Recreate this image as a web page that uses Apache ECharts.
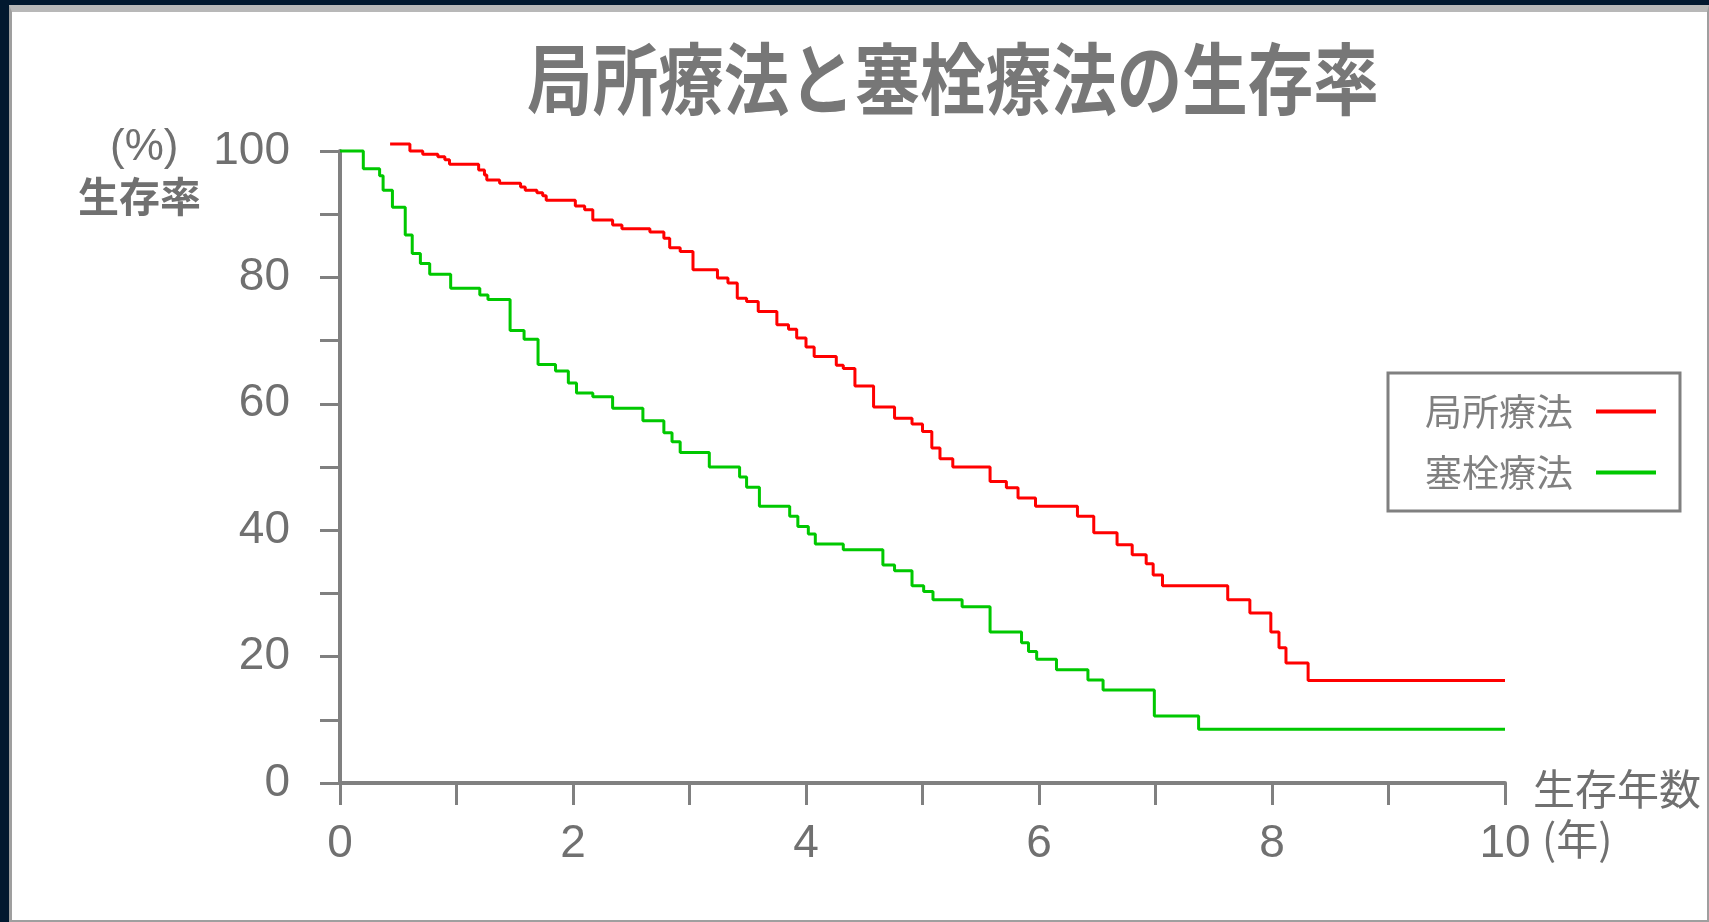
<!DOCTYPE html>
<html>
<head>
<meta charset="utf-8">
<script src="https://cdn.jsdelivr.net/npm/echarts@6/dist/echarts.min.js"></script>
<style>
  html, body { margin: 0; padding: 0; width: 1709px; height: 922px; overflow: hidden; background: #02182f; }
  #frame {
    position: absolute; left: 9px; top: 5px; width: 1700px; height: 917px;
    box-sizing: border-box; background: #fff;
    border-top: 7px solid #b8b8b8; border-left: 3px solid #9f9f9f;
    border-right: 2px solid #9f9f9f; border-bottom: 2px solid #9f9f9f;
  }
  #chart { position: absolute; left: 0; top: 0; width: 1709px; height: 922px; }
</style>
</head>
<body>
<div id="frame"></div>
<div id="chart"></div>
<script>
// 局所療法 (local therapy) - step points: year, survival %
var localYears = [0.43, 0.60, 0.71, 0.84, 0.90, 0.94, 1.19, 1.24, 1.26, 1.37, 1.55, 1.59, 1.69, 1.74, 1.77,
  2.02, 2.10, 2.17, 2.34, 2.42, 2.66, 2.78, 2.83, 2.92, 3.03, 3.24, 3.33, 3.41, 3.49, 3.59, 3.75, 3.85,
  3.92, 4.00, 4.07, 4.26, 4.32, 4.42, 4.58, 4.76, 4.91, 5.00, 5.08, 5.15, 5.26, 5.58, 5.72, 5.82, 5.97,
  6.33, 6.47, 6.67, 6.80, 6.92, 6.98, 7.06, 7.62, 7.81, 7.99, 8.06, 8.12, 8.31, 10.0]
var localRates = [101.1, 100.0, 99.5, 99.1, 98.6, 97.9, 97.0, 96.2, 95.4, 94.9, 94.3, 93.8, 93.4, 92.9, 92.2,
  91.3, 90.7, 89.1, 88.3, 87.7, 87.2, 86.2, 84.7, 84.1, 81.2, 79.9, 79.1, 76.7, 76.2, 74.6, 72.5, 71.8,
  70.4, 69.0, 67.5, 66.1, 65.6, 62.8, 59.5, 57.7, 56.8, 55.6, 53.0, 51.3, 50.0, 47.7, 46.7, 45.1, 43.8,
  42.2, 39.6, 37.7, 36.1, 34.7, 32.9, 31.2, 29.0, 26.9, 23.9, 21.4, 19.0, 16.2, 16.2]

// 塞栓療法 (embolization)
var emboYears = [0.00, 0.20, 0.34, 0.37, 0.45, 0.56, 0.62, 0.69, 0.77, 0.95, 1.20, 1.27, 1.46, 1.58, 1.70,
  1.85, 1.96, 2.03, 2.17, 2.34, 2.60, 2.78, 2.85, 2.92, 3.17, 3.43, 3.49, 3.60, 3.86, 3.93, 4.02, 4.08,
  4.32, 4.66, 4.76, 4.91, 5.01, 5.09, 5.34, 5.58, 5.85, 5.91, 5.98, 6.15, 6.42, 6.55, 6.99, 7.37, 10.0]
var emboRates = [100.0, 97.2, 96.1, 93.8, 91.1, 86.7, 83.8, 82.2, 80.5, 78.3, 77.2, 76.5, 71.6, 70.2, 66.2,
  65.2, 63.3, 61.7, 61.1, 59.3, 57.3, 55.4, 54.0, 52.3, 50.0, 48.4, 46.8, 43.8, 42.2, 40.6, 39.4, 37.8,
  36.9, 34.5, 33.6, 31.2, 30.3, 29.0, 27.9, 23.9, 22.2, 20.8, 19.6, 17.9, 16.3, 14.7, 10.6, 8.5, 8.5]

var seriesNames = ['局所療法', '塞栓療法']
var xLabelYears = [0, 2, 4, 6, 8, 10]
var yLabelValues = [0, 20, 40, 60, 80, 100]

var gray = '#808080'
var textGray = '#707070'
var jp = '"Noto Sans CJK JP", sans-serif'

function pairs (xs, ys) {
  return xs.map(function (x, i) { return [x, ys[i]] })
}

var myChart = echarts.init(document.getElementById('chart'))

var option = {
  backgroundColor: 'transparent',
  animation: false,
  legend: {
    orient: 'vertical',
    align: 'right',
    left: 1388,
    top: 373,
    padding: [20, 24, 20, 37],
    itemGap: 24,
    itemWidth: 60,
    itemHeight: 4,
    icon: 'rect',
    borderColor: gray,
    borderWidth: 3,
    textStyle: { fontFamily: jp, fontSize: 37, color: gray, padding: [0, 18, 0, 0] },
    data: seriesNames
  },
  grid: { left: 340, right: 204, top: 151, bottom: 139 },
  xAxis: {
    type: 'value',
    min: 0,
    max: 10,
    interval: 1,
    axisLine: { lineStyle: { color: gray, width: 4 } },
    axisTick: { length: 22, lineStyle: { color: gray, width: 3 } },
    splitLine: { show: false },
    axisLabel: {
      margin: 38,
      fontSize: 46,
      fontFamily: 'Liberation Sans',
      color: textGray,
      formatter: function (v) { return xLabelYears.indexOf(v) >= 0 ? String(v) : '' }
    }
  },
  yAxis: {
    type: 'value',
    min: 0,
    max: 100,
    interval: 10,
    axisLine: { show: true, lineStyle: { color: gray, width: 4 } },
    axisTick: { show: true, length: 20, lineStyle: { color: gray, width: 3 } },
    splitLine: { show: false },
    axisLabel: {
      margin: 50,
      fontSize: 46,
      fontFamily: 'Liberation Sans',
      color: textGray,
      formatter: function (v) { return yLabelValues.indexOf(v) >= 0 ? String(v) : '' }
    }
  },
  graphic: [
    {
      type: 'text', x: 953, y: 79, scaleX: 0.84,
      style: { text: '局所療法と塞栓療法の生存率', font: 'bold 78px ' + jp, fill: '#777777', align: 'center', verticalAlign: 'middle' }
    },
    { type: 'text', left: 110, top: 126, style: { text: '(%)', font: '44px "Liberation Sans"', fill: textGray } },
    { type: 'text', left: 78, top: 176, style: { text: '生存率', font: 'bold 41px ' + jp, fill: textGray } },
    { type: 'text', left: 1533, top: 768, style: { text: '生存年数', font: '42px ' + jp, fill: textGray } },
    { type: 'text', left: 1542, top: 818, style: { text: '(年)', font: '42px ' + jp, fill: textGray } }
  ],
  series: [
    {
      name: seriesNames[0],
      type: 'line',
      step: 'end',
      showSymbol: false,
      clip: false,
      color: '#ff0000',
      lineStyle: { width: 3, color: '#ff0000' },
      data: pairs(localYears, localRates)
    },
    {
      name: seriesNames[1],
      type: 'line',
      step: 'end',
      showSymbol: false,
      clip: false,
      color: '#00c800',
      lineStyle: { width: 3, color: '#00c800' },
      data: pairs(emboYears, emboRates)
    }
  ]
}

myChart.setOption(option)
window.addEventListener('resize', function () {
  myChart.resize()
})
</script>
</body>
</html>
